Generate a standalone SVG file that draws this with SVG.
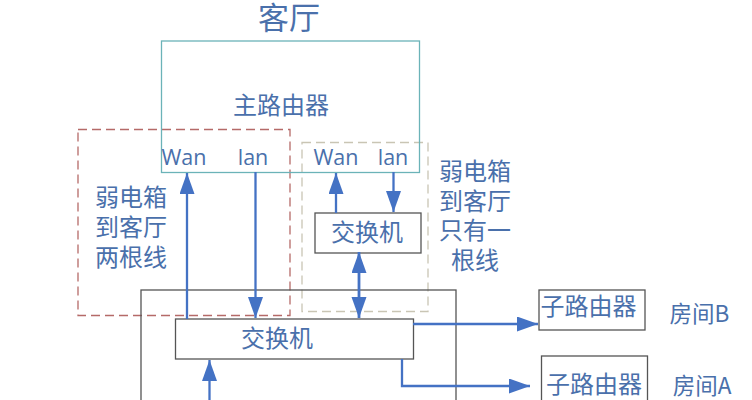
<svg xmlns="http://www.w3.org/2000/svg" width="752" height="400" viewBox="0 0 752 400">
<style>
text{font-family:"Noto Sans CJK SC","Noto Sans",sans-serif;fill:#4a70ab;text-anchor:middle}
.l{font-family:"Open Sans","Noto Sans CJK SC",sans-serif}
.t22{font-size:24px}
.box{fill:none;stroke:#555;stroke-width:1.3}
.c{fill:none;stroke:#4472c4;stroke-width:2.300}
</style>
<defs>
<marker id="as" markerUnits="userSpaceOnUse" markerWidth="22" markerHeight="16" refX="21" refY="7.500" orient="auto-start-reverse"><path d="M0 0L21 7.500L0 15Z" fill="#4472c4"/></marker>
</defs>
<rect width="752" height="400" fill="#fff"/>
<g id="title"><text x="289" y="29" font-size="31">客厅</text></g>
<g id="zone-two"><rect x="78" y="129.500" width="212" height="186" fill="none" stroke="#b56a68" stroke-width="1.300" stroke-dasharray="9 5"/>
<text class="t22"><tspan x="131" y="206">弱电箱</tspan><tspan x="131" y="236">到客厅</tspan><tspan x="131" y="266">两根线</tspan></text></g>
<g id="zone-one"><rect x="302" y="142.500" width="126" height="169" fill="none" stroke="#c9c5b4" stroke-width="1.300" stroke-dasharray="9 5"/>
<text class="t22"><tspan x="475" y="180">弱电箱</tspan><tspan x="475" y="210">到客厅</tspan><tspan x="475" y="239">只有一</tspan><tspan x="475" y="269">根线</tspan></text></g>
<g id="main-router"><rect x="161.500" y="41" width="258" height="131.500" fill="none" stroke="#6bb3b8" stroke-width="1.300"/>
<text class="t22" x="281" y="114">主路由器</text>
<text class="l" x="184" y="165" font-size="21.500">Wan</text><text class="l" x="253" y="165" font-size="21.500">lan</text>
<text class="l" x="336" y="165" font-size="21.500">Wan</text><text class="l" x="393" y="165" font-size="21.500">lan</text></g>
<g id="house-box"><rect x="141" y="290" width="315" height="120" class="box"/></g>
<g id="switch-top"><rect x="315" y="213" width="106" height="40" class="box"/><text class="t22" x="367" y="241">交换机</text></g>
<g id="switch-main"><rect x="175.500" y="319" width="238" height="40" class="box"/><text class="t22" x="277" y="347">交换机</text></g>
<g id="router-b"><rect x="539" y="290" width="106" height="40" class="box"/><text class="t22" x="588.500" y="315">子路由器</text></g>
<g id="router-a"><rect x="541.500" y="356" width="106" height="50" class="box"/><text class="t22" x="594" y="393">子路由器</text></g>
<g id="room-labels"><text x="699.500" y="322" font-size="22.500">房间B</text><text x="702" y="394" font-size="22.500">房间A</text></g>
<g id="connectors">
<path class="c" d="M187 319V173" marker-end="url(#as)"/>
<path class="c" d="M255.500 172V318" marker-end="url(#as)"/>
<path class="c" d="M336 213V173" marker-end="url(#as)"/>
<path class="c" d="M393.500 172V212" marker-end="url(#as)"/>
<path class="c" style="stroke-width:2.800" d="M359 252V318" marker-start="url(#as)" marker-end="url(#as)"/>
<path class="c" d="M209.500 400V360" marker-end="url(#as)"/>
<path class="c" d="M413 324H538" marker-end="url(#as)"/>
<path class="c" d="M402 359V386H530" marker-end="url(#as)"/>
</g>
</svg>
